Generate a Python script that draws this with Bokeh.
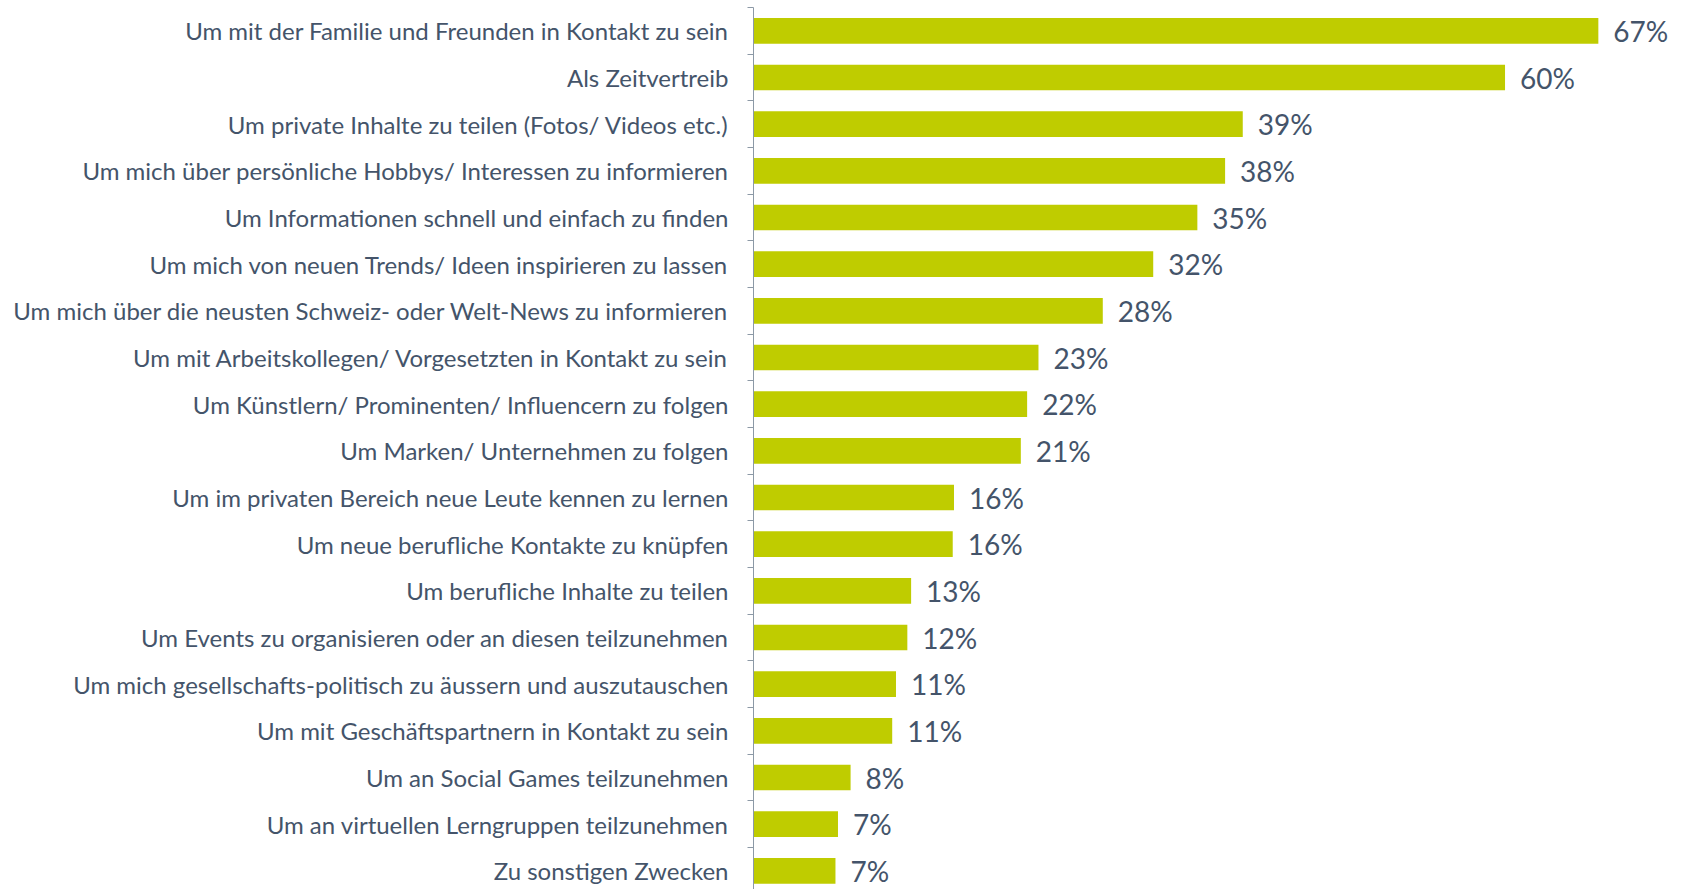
from bokeh.plotting import figure
from bokeh.models import ColumnDataSource, Range1d, LinearAxis, FixedTicker
from bokeh.core.properties import value
from bokeh.embed import file_html
from bokeh.resources import INLINE

categories = [
    "Um mit der Familie und Freunden in Kontakt zu sein",
    "Als Zeitvertreib",
    "Um private Inhalte zu teilen (Fotos/ Videos etc.)",
    "Um mich über persönliche Hobbys/ Interessen zu informieren",
    "Um Informationen schnell und einfach zu finden",
    "Um mich von neuen Trends/ Ideen inspirieren zu lassen",
    "Um mich über die neusten Schweiz- oder Welt-News zu informieren",
    "Um mit Arbeitskollegen/ Vorgesetzten in Kontakt zu sein",
    "Um Künstlern/ Prominenten/ Influencern zu folgen",
    "Um Marken/ Unternehmen zu folgen",
    "Um im privaten Bereich neue Leute kennen zu lernen",
    "Um neue berufliche Kontakte zu knüpfen",
    "Um berufliche Inhalte zu teilen",
    "Um Events zu organisieren oder an diesen teilzunehmen",
    "Um mich gesellschafts-politisch zu äussern und auszutauschen",
    "Um mit Geschäftspartnern in Kontakt zu sein",
    "Um an Social Games teilzunehmen",
    "Um an virtuellen Lerngruppen teilzunehmen",
    "Zu sonstigen Zwecken",
]
values = [67.0, 59.6, 38.8, 37.4, 35.2, 31.7, 27.7, 22.6, 21.7, 21.2,
          15.9, 15.8, 12.5, 12.2, 11.3, 11.0, 7.7, 6.7, 6.5]
value_labels = ["67%", "60%", "39%", "38%", "35%", "32%", "28%", "23%", "22%", "21%",
                "16%", "16%", "13%", "12%", "11%", "11%", "8%", "7%", "7%"]

BAR = "#BFCC00"
TEXT = "#44546A"
AXIS = "#8C99A6"

n = len(categories)
pos = list(range(n))
src = ColumnDataSource(dict(pos=pos, cat=categories, val=values, lab=value_labels))

p = figure(
    width=1673, height=889,
    y_range=Range1d(n - 0.6, -0.5),
    x_range=Range1d(0, 72.96),
    output_backend="svg", toolbar_location=None,
    x_axis_location=None, y_axis_location=None,
    min_border_left=753, min_border_right=0, min_border_top=7, min_border_bottom=0,
)
p.outline_line_color = None
p.background_fill_color = "white"
p.border_fill_color = "white"
p.grid.grid_line_color = None

p.hbar(y="pos", right="val", left=0, height=0.55, source=src,
       fill_color=BAR, line_color=None)

p.text(x="val", y="pos", text="lab", source=src, x_offset=15,
       text_baseline="middle", text_align="left",
       text_font=value("Lato"), text_font_size="28px", text_color=TEXT)

# axis with ticks at category boundaries
tick_axis = LinearAxis(
    ticker=FixedTicker(ticks=[i + 0.5 for i in range(-1, n)]),
    axis_line_color=AXIS, axis_line_width=1,
    major_tick_line_color=AXIS, major_tick_out=6, major_tick_in=0,
    minor_tick_line_color=None,
    major_label_standoff=0, major_label_text_font_size="0px",
    major_label_overrides={i + 0.5: "" for i in range(-1, n)},
)
# axis carrying the category labels
label_axis = LinearAxis(
    ticker=FixedTicker(ticks=pos),
    axis_line_color=None,
    major_tick_line_color=None, major_tick_out=0, major_tick_in=0,
    minor_tick_line_color=None,
    major_label_standoff=19,
    major_label_text_font="Lato", major_label_text_font_size="24px",
    major_label_text_color=TEXT,
    major_label_overrides={i: c for i, c in zip(pos, categories)},
)
p.add_layout(tick_axis, "left")
p.add_layout(label_axis, "left")

open("out.html", "w").write(file_html(p, INLINE))
